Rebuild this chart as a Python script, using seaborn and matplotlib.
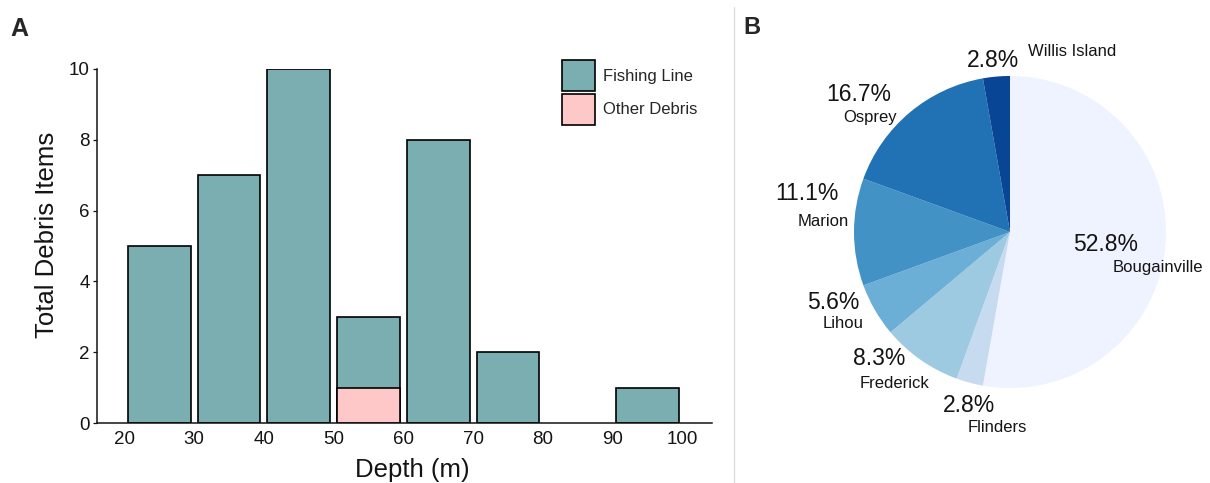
import matplotlib
matplotlib.use("Agg")
import matplotlib.pyplot as plt
from matplotlib.patches import Patch
from matplotlib.lines import Line2D
import pandas as pd
import seaborn as sns

# --- data -------------------------------------------------------------
depth_mid = [25, 35, 45, 55, 65, 75, 95]          # centre of each 10 m depth bin
fishing_line = [5, 7, 10, 2, 8, 2, 1]
other_debris = [0, 0, 0, 1, 0, 0, 0]
depth_ticks = [20, 30, 40, 50, 60, 70, 80, 90, 100]
count_ticks = [0, 2, 4, 6, 8, 10]

reefs = ["Bougainville", "Flinders", "Frederick", "Lihou", "Marion", "Osprey", "Willis Island"]
reef_counts = [19, 1, 3, 2, 4, 6, 1]

# --- style ------------------------------------------------------------
sns.set_theme(style="ticks")
plt.rcParams["font.family"] = ["Liberation Sans", "DejaVu Sans"]

teal = "#7aaeb0"
pink = "#ffc8c8"
ink = "#141414"
blues = ["#eff3ff", "#c6dbef", "#9ecae1", "#6baed6", "#4292c6", "#2171b5", "#084594"]

W, H = 1210, 483
fig = plt.figure(figsize=(W / 100, H / 100), dpi=100)

# --- panel A: stacked bars by depth -------------------------------------
ax_l, ax_r, ax_t, ax_b = 96.5, 711.5, 69, 423
ax = fig.add_axes([ax_l / W, (H - ax_b) / H, (ax_r - ax_l) / W, (ax_b - ax_t) / H])
bars = pd.DataFrame({
    "depth": depth_mid,
    "total": [f + o for f, o in zip(fishing_line, other_debris)],
    "other": other_debris,
})
sns.barplot(data=bars, x="depth", y="total", native_scale=True, width=0.9,
            color=teal, saturation=1, edgecolor="black", linewidth=1.2,
            errorbar=None, ax=ax)
sns.barplot(data=bars, x="depth", y="other", native_scale=True, width=0.9,
            color=pink, saturation=1, edgecolor="black", linewidth=1.2,
            errorbar=None, ax=ax)

ax.set_xlim(16, 104.2)
ax.set_ylim(0, 10)
ax.set_xticks(depth_ticks)
ax.set_yticks(count_ticks)
ax.tick_params(axis="both", labelsize=13.5, colors=ink)
ax.tick_params(axis="x", length=0, pad=6)
ax.tick_params(axis="y", length=3, width=0.9, pad=2)
for side in ("top", "right"):
    ax.spines[side].set_visible(False)
for side in ("left", "bottom"):
    ax.spines[side].set_color(ink)
    ax.spines[side].set_linewidth(1.1)
    ax.spines[side].set_zorder(3)
ax.set_xlabel("Depth (m)", fontsize=18.5, color=ink)
ax.set_ylabel("Total Debris Items", fontsize=18.5, color=ink)
ax.xaxis.set_label_coords((412 - ax_l) / (ax_r - ax_l), -(470 - ax_b) / (ax_b - ax_t))
ax.yaxis.set_label_coords(-(ax_l - 47) / (ax_r - ax_l), (ax_b - 235) / (ax_b - ax_t))
ax.xaxis.label.set_va("center")
ax.yaxis.label.set_va("center")

handles = [Patch(facecolor=teal, edgecolor="black", linewidth=1.2, label="Fishing Line"),
           Patch(facecolor=pink, edgecolor="black", linewidth=1.2, label="Other Debris")]
fig.legend(handles=handles, loc="upper left", bbox_to_anchor=(562 / W, (H - 60) / H),
           frameon=False, fontsize=12, handlelength=1.95, handleheight=2.5,
           labelspacing=0.15, handletextpad=0.5, borderpad=0, borderaxespad=0)

fig.text(19 / W, (H - 29) / H, "A", fontsize=18, fontweight="bold", ha="center", va="center")

# --- divider between panels ---------------------------------------------
fig.add_artist(Line2D([734 / W, 734 / W], [0, (H - 7) / H], color="#dedede", linewidth=1))

# --- panel B: share of debris by reef -----------------------------------
R = 156
pax = fig.add_axes([(1010 - R) / W, (H - 232 - R) / H, 2 * R / W, 2 * R / H])
wedges, _ = pax.pie(reef_counts, colors=blues, startangle=90, counterclock=False,
                    radius=1, wedgeprops=dict(linewidth=0))
pax.set_xlim(-1, 1)
pax.set_ylim(-1, 1)
pax.set_aspect("equal")
pax.axis("off")

# label anchors (percentage, reef name) in pie radius units
label_pos = {
    "Bougainville": ((0.61, -0.08), (0.95, -0.23)),
    "Flinders": ((-0.26, -1.11), (-0.08, -1.25)),
    "Frederick": ((-0.84, -0.81), (-0.74, -0.97)),
    "Lihou": ((-1.135, -0.455), (-1.07, -0.585)),
    "Marion": ((-1.30, 0.25), (-1.20, 0.07)),
    "Osprey": ((-0.97, 0.88), (-0.90, 0.735)),
    "Willis Island": ((-0.11, 1.10), (0.40, 1.16)),
}
total = sum(reef_counts)
for reef, n in zip(reefs, reef_counts):
    (px, py), (nx, ny) = label_pos[reef]
    pax.text(px, py, f"{100 * n / total:.1f}%", fontsize=16.5, ha="center", va="center",
             color=ink, clip_on=False)
    pax.text(nx, ny, reef, fontsize=12, ha="center", va="center",
             color=ink, clip_on=False)

fig.text(752 / W, (H - 27) / H, "B", fontsize=17, fontweight="bold", ha="center", va="center")

fig.savefig("out.png", dpi=100)
